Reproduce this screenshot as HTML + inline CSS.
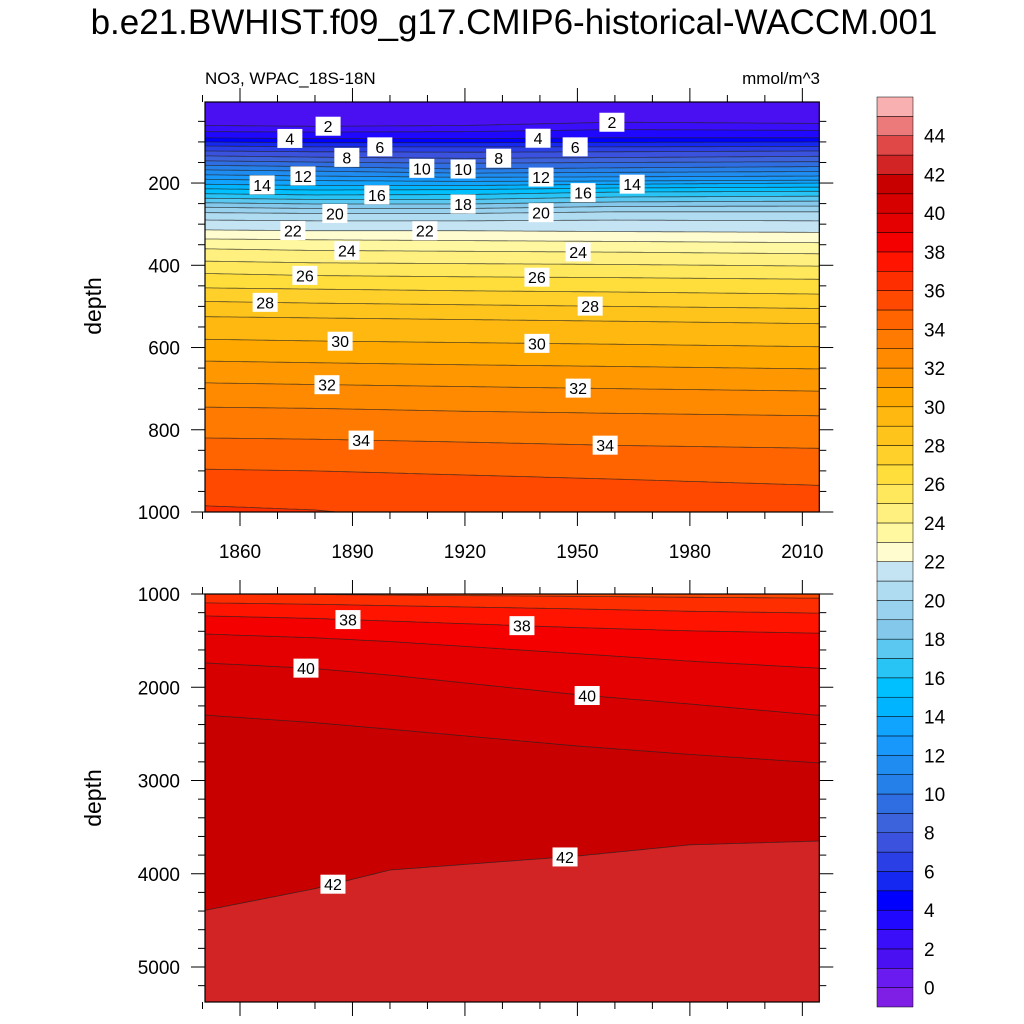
<!DOCTYPE html>
<html><head><meta charset="utf-8">
<style>
html,body{margin:0;padding:0;background:#fff;}
svg{display:block;font-family:"Liberation Sans",Arial,sans-serif;}
</style></head>
<body>
<svg id="chart" width="1024" height="1024" viewBox="0 0 1024 1024">
<text x="514" y="34" text-anchor="middle" font-size="35">b.e21.BWHIST.f09_g17.CMIP6-historical-WACCM.001</text>
<text x="205" y="84" font-size="17">NO3, WPAC_18S-18N</text>
<text x="820" y="84" font-size="17" text-anchor="end">mmol/m^3</text>
<text transform="translate(101,306) rotate(-90)" text-anchor="middle" font-size="23">depth</text>
<text transform="translate(101,798) rotate(-90)" text-anchor="middle" font-size="23">depth</text>
<defs>
<clipPath id="clipTop"><rect x="205" y="102" width="614.3" height="410"/></clipPath>
<clipPath id="clipBot"><rect x="205" y="594" width="614.3" height="408"/></clipPath>
</defs>
<g id="topPlot" clip-path="url(#clipTop)"></g>
<g id="botPlot" clip-path="url(#clipBot)"></g>
<g id="axes"></g>
<g id="labels"></g>
<g id="cbar"></g>
</svg>
<script>
// ---- data ----
const bandLevels = [-1,0,1,2,3,4,5,6,7,8,9,10,11,12,13,14,15,16,17,18,19,20,21,22,23,24,25,26,27,28,29,30,31,32,33,34,35,36,37,38,39,40,41,42,43,44,45];
const bandColors = ["#7f1fe6","#6a1bf0","#4a10f2","#3a0ef8","#2008ff","#0000ff","#1428f2","#2a40e6","#3a52de","#3c62dc","#2f6ee2","#2680ea","#1f8cf2","#1898fa","#10a4ff","#00b4ff","#00c0ff","#28c4f6","#5ac8f0","#84c8ec","#98d2ee","#b0dcf2","#c4e4f4","#fffdd0","#fff8a0","#fff080","#ffe85c","#ffde3c","#ffd02a","#ffc41c","#ffb810","#ffa800","#ff9800","#ff8a00","#ff7a00","#ff6400","#ff4800","#ff2e00","#ff1400","#f40000","#e40000","#d60000","#c80000","#d22424","#e04848","#ec7a7a","#f8b0b0"];
const cbarTicks = [0,2,4,6,8,10,12,14,16,18,20,22,24,26,28,30,32,34,36,38,40,42,44];
const xTickYears = [1860,1890,1920,1950,1980,2010];
const topDepthTicks = [200,400,600,800,1000];
const botDepthTicks = [1000,2000,3000,4000,5000];

const topYears = [1851,1880,1920,1960,2014];
const topLevels = [2,3,4,5,6,7,8,9,10,11,12,13,14,15,16,17,18,19,20,21,22,23,24,25,26,27,28,29,30,31,32,33,34,35,36];
const topDepths = [
[60,62,60,52,55],[75,76,75,70,72],[90,92,92,90,90],[100,102,102,101,100],[110,112,112,112,111],
[122,124,125,124,122],[134,137,140,138,135],[146,149,152,150,148],[157,160,166,163,160],[168,171,176,174,172],
[180,183,186,185,183],[191,194,196,195,193],[203,206,206,203,200],[214,217,216,212,210],[226,229,228,222,220],
[237,240,240,234,232],[248,251,251,246,244],[259,262,262,257,256],[272,274,274,270,270],[290,292,292,290,292],
[314,316,316,318,320],[336,338,340,342,345],[360,364,366,368,372],[390,394,396,398,402],[420,425,428,430,434],
[455,458,462,465,470],[488,492,496,500,505],[525,528,532,536,542],[580,584,588,592,598],[633,637,642,646,652],
[686,690,695,700,706],[745,748,755,760,766],[820,823,830,838,845],[896,900,910,920,935],[985,995,1030,1060,1080]];

const botYears = [1851,1880,1900,1950,1980,2014];
const botLevels = [36,37,38,39,40,41,42];
const botDepths = [
[998,1005,1012,1025,1035,1045],
[1095,1110,1125,1160,1185,1205],
[1235,1262,1290,1360,1395,1420],
[1430,1470,1510,1640,1720,1795],
[1740,1800,1870,2080,2180,2300],
[2300,2380,2450,2630,2720,2810],
[4390,4160,3960,3810,3690,3650]];

const topLabelLevels = [2,4,6,8,10,10,8,4,6,2,12,14,12,16,14,16,18,20,20,22,22,24,24,26,26,28,28,30,30,32,32,34,34];
const topLabelYears = [1883.5,1873.3,1897.3,1888.5,1908.5,1919.5,1929,1939.5,1949.4,1959.2,1876.8,1865.9,1940.3,1951.5,1964.6,1896.5,1919.5,1885.3,1940.3,1874.1,1909.3,1888.5,1950.2,1877.3,1939.2,1866.7,1953.4,1886.7,1939.2,1883.2,1950.2,1892.3,1957.4];
const botLabelLevels = [38,38,40,40,42,42];
const botLabelYears = [1888.8,1935.2,1877.6,1952.6,1884.8,1946.7];

// ---- scales ----
const NS="http://www.w3.org/2000/svg";
function xS(yr){return 240+(yr-1860)*3.749;}
function yTop(d){return 100.8+d*0.4112;}
function yBot(d){return 594+(d-1000)*0.09325;}
function colorOf(L){return bandColors[bandLevels.indexOf(L)];}
function interp(years,vals,yr){
  if(yr<=years[0])return vals[0];
  for(let i=1;i<years.length;i++){if(yr<=years[i]){const t=(yr-years[i-1])/(years[i]-years[i-1]);return vals[i-1]+t*(vals[i]-vals[i-1]);}}
  return vals[vals.length-1];
}
function mk(tag,attrs,parent){const e=document.createElementNS(NS,tag);for(const k in attrs)e.setAttribute(k,attrs[k]);parent.appendChild(e);return e;}
const sampleYears=[];for(let y=1850;y<=2015;y+=1)sampleYears.push(y);

function drawPanel(g,years,levels,depths,yFn,topColor,bottomY,top){
  const r=mk('rect',{x:205,y:top,width:614.3,height:bottomY-top,fill:topColor},g);
  
  
  levels.forEach((L,i)=>{
    const pts=sampleYears.map(yr=>xS(yr).toFixed(1)+','+yFn(interp(years,depths[i],yr)).toFixed(1));
    const poly=mk('polygon',{points:pts.join(' ')+' 830,'+(bottomY+20)+' 195,'+(bottomY+20),fill:colorOf(L)},g);
    
    
  });
  levels.forEach((L,i)=>{
    const pts=sampleYears.map(yr=>xS(yr).toFixed(1)+','+yFn(interp(years,depths[i],yr)).toFixed(1));
    const pl=mk('polyline',{points:pts.join(' '),fill:'none',stroke:'#222','stroke-width':0.8,'stroke-opacity':0.75},g);
    
    
  });
}
drawPanel(document.getElementById('topPlot'),topYears,topLevels,topDepths,yTop,colorOf(1),512,102);
drawPanel(document.getElementById('botPlot'),botYears,botLevels,botDepths,yBot,colorOf(35),1002,594);

// labels
const lg=document.getElementById('labels');
function addLabel(L,yr,years,levels,depths,yFn){
  const i=levels.indexOf(L);const x=xS(yr),y=yFn(interp(years,depths[i],yr));
  const g=mk('g',{},lg);
  
  
  mk('rect',{x:x-12.5,y:y-9.5,width:25,height:19,fill:'#fff'},g);
  const t=mk('text',{x:x,y:y+6,'text-anchor':'middle','font-size':16,fill:'#000'},g);t.textContent=L;
}
topLabelLevels.forEach((L,k)=>addLabel(L,topLabelYears[k],topYears,topLevels,topDepths,yTop));
botLabelLevels.forEach((L,k)=>addLabel(L,botLabelYears[k],botYears,botLevels,botDepths,yBot));

// axes
const ax=document.getElementById('axes');
function line(x1,y1,x2,y2,w){return mk('line',{x1,y1,x2,y2,stroke:'#000','stroke-width':w||1},ax);}
function panelAxes(top,bot,yFn,majors,minStep,minFrom,minTo,labelPrefix){
  const f=mk('rect',{x:205,y:top,width:614.3,height:bot-top,fill:'none',stroke:'#000','stroke-width':1.2},ax);
  
  
  for(let yr=1850;yr<=2010;yr+=10){
    const x=xS(yr);const maj=xTickYears.includes(yr);const len=maj?14:7;
    line(x,top,x,top-len);line(x,bot,x,bot+len);
  }
  for(let d=minFrom;d<=minTo;d+=minStep){
    const y=yFn(d);if(y<top-0.5||y>bot+0.5)continue;const maj=majors.includes(d);const len=maj?14:7;
    line(205,y,205-len,y);line(819.3,y,819.3+len,y);
  }
  majors.forEach(d=>{
    const t=mk('text',{x:180,y:yFn(d)+7,'text-anchor':'end','font-size':19},ax);t.textContent=d;
    
    
  });
}
panelAxes(102,512,yTop,topDepthTicks,50,50,1000,'top');
panelAxes(594,1002,yBot,botDepthTicks,200,1000,5400,'bottom');
xTickYears.forEach(yr=>{
  const t=mk('text',{x:xS(yr),y:558,'text-anchor':'middle','font-size':19},ax);t.textContent=yr;
  
  
});

// colorbar
const cb=document.getElementById('cbar');
const cbTop=97,cbBot=1007,cbH=(cbBot-cbTop)/bandColors.length;
bandColors.forEach((c,i)=>{
  const y=cbBot-(i+1)*cbH;
  const r=mk('rect',{x:877,y:y,width:36,height:cbH,fill:c,stroke:'#000','stroke-width':0.5},cb);
  
  
});
cbarTicks.forEach(v=>{
  const y=cbBot-(v+1)*cbH;
  const t=mk('text',{x:924,y:y+7,'font-size':19},cb);t.textContent=v;
  
  
});
</script>
</body></html>
